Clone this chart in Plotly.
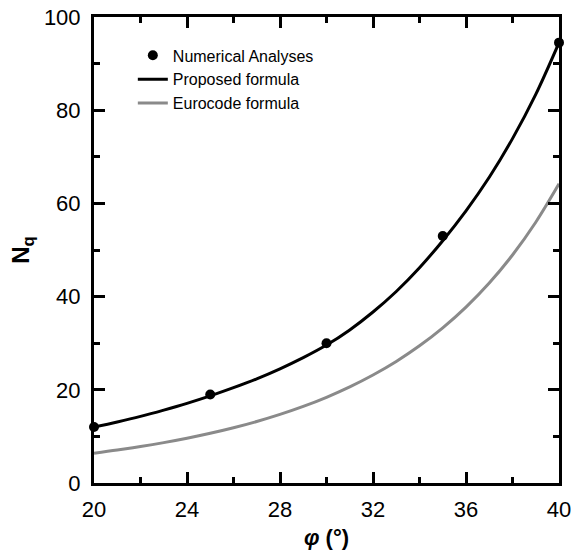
import plotly.graph_objects as go

# Numerical analyses
num_phi = [20, 25, 30, 35, 40]
num_nq = [12.0, 19.0, 30.0, 53.0, 94.5]

# Proposed formula curve
phi_curve = [20, 21, 22, 23, 24, 25, 26, 27, 28, 29, 30, 31, 32, 33, 34, 35, 36, 37, 38, 39, 40]
proposed_nq = [12.0, 13.1, 14.3, 15.65, 17.1, 18.7, 20.45, 22.35, 24.5, 26.9, 29.6, 32.85, 36.7, 41.1, 46.2, 52.0, 58.4, 65.6, 73.9, 83.4, 94.5]
eurocode_nq = [6.4, 7.07, 7.82, 8.66, 9.6, 10.66, 11.85, 13.2, 14.72, 16.44, 18.4, 20.63, 23.18, 26.09, 29.44, 33.3, 37.75, 42.92, 48.93, 55.96, 64.2]

FONT = "Liberation Sans, Arial, sans-serif"

fig = go.Figure()
fig.add_trace(go.Scatter(x=num_phi, y=num_nq, mode="markers", name="Numerical Analyses",
                         marker=dict(color="black", size=10), cliponaxis=False))
fig.add_trace(go.Scatter(x=phi_curve, y=proposed_nq, mode="lines", name="Proposed formula",
                         line=dict(color="black", width=3, shape="spline"), cliponaxis=False))
fig.add_trace(go.Scatter(x=phi_curve, y=eurocode_nq, mode="lines", name="Eurocode formula",
                         line=dict(color="#8a8a8a", width=3, shape="spline"), cliponaxis=False))

axis_common = dict(showline=True, linecolor="black", linewidth=3, mirror="ticks",
                   ticks="inside", ticklen=11, tickwidth=3, tickcolor="black",
                   showgrid=False, zeroline=False, automargin=False,
                   tickfont=dict(family=FONT, size=22, color="black"))

fig.update_xaxes(range=[20, 40], tick0=20, dtick=4, ticklabelstandoff=5,
                 minor=dict(ticks="inside", ticklen=6, tickwidth=3, tickcolor="black", dtick=2, showgrid=False),
                 title=dict(text="<b><i>φ</i> (°)</b>", font=dict(family=FONT, size=22, color="black"), standoff=9),
                 **axis_common)
fig.update_yaxes(range=[0, 100], tick0=0, dtick=20, ticklabelstandoff=6,
                 minor=dict(ticks="inside", ticklen=6, tickwidth=3, tickcolor="black", dtick=10, showgrid=False),
                 title=dict(text="<b>N<sub>q</sub></b>", font=dict(family=FONT, size=24, color="black"), standoff=8),
                 **axis_common)

fig.update_layout(
    width=573, height=553,
    margin=dict(l=94, r=14, t=17, b=70),
    plot_bgcolor="white", paper_bgcolor="white",
    showlegend=True,
    legend=dict(x=0.0835, y=0.954, xanchor="left", yanchor="top",
                bgcolor="rgba(0,0,0,0)", font=dict(family=FONT, size=16, color="black"),
                tracegroupgap=0, itemwidth=30),
)

fig.write_html("out.html")
